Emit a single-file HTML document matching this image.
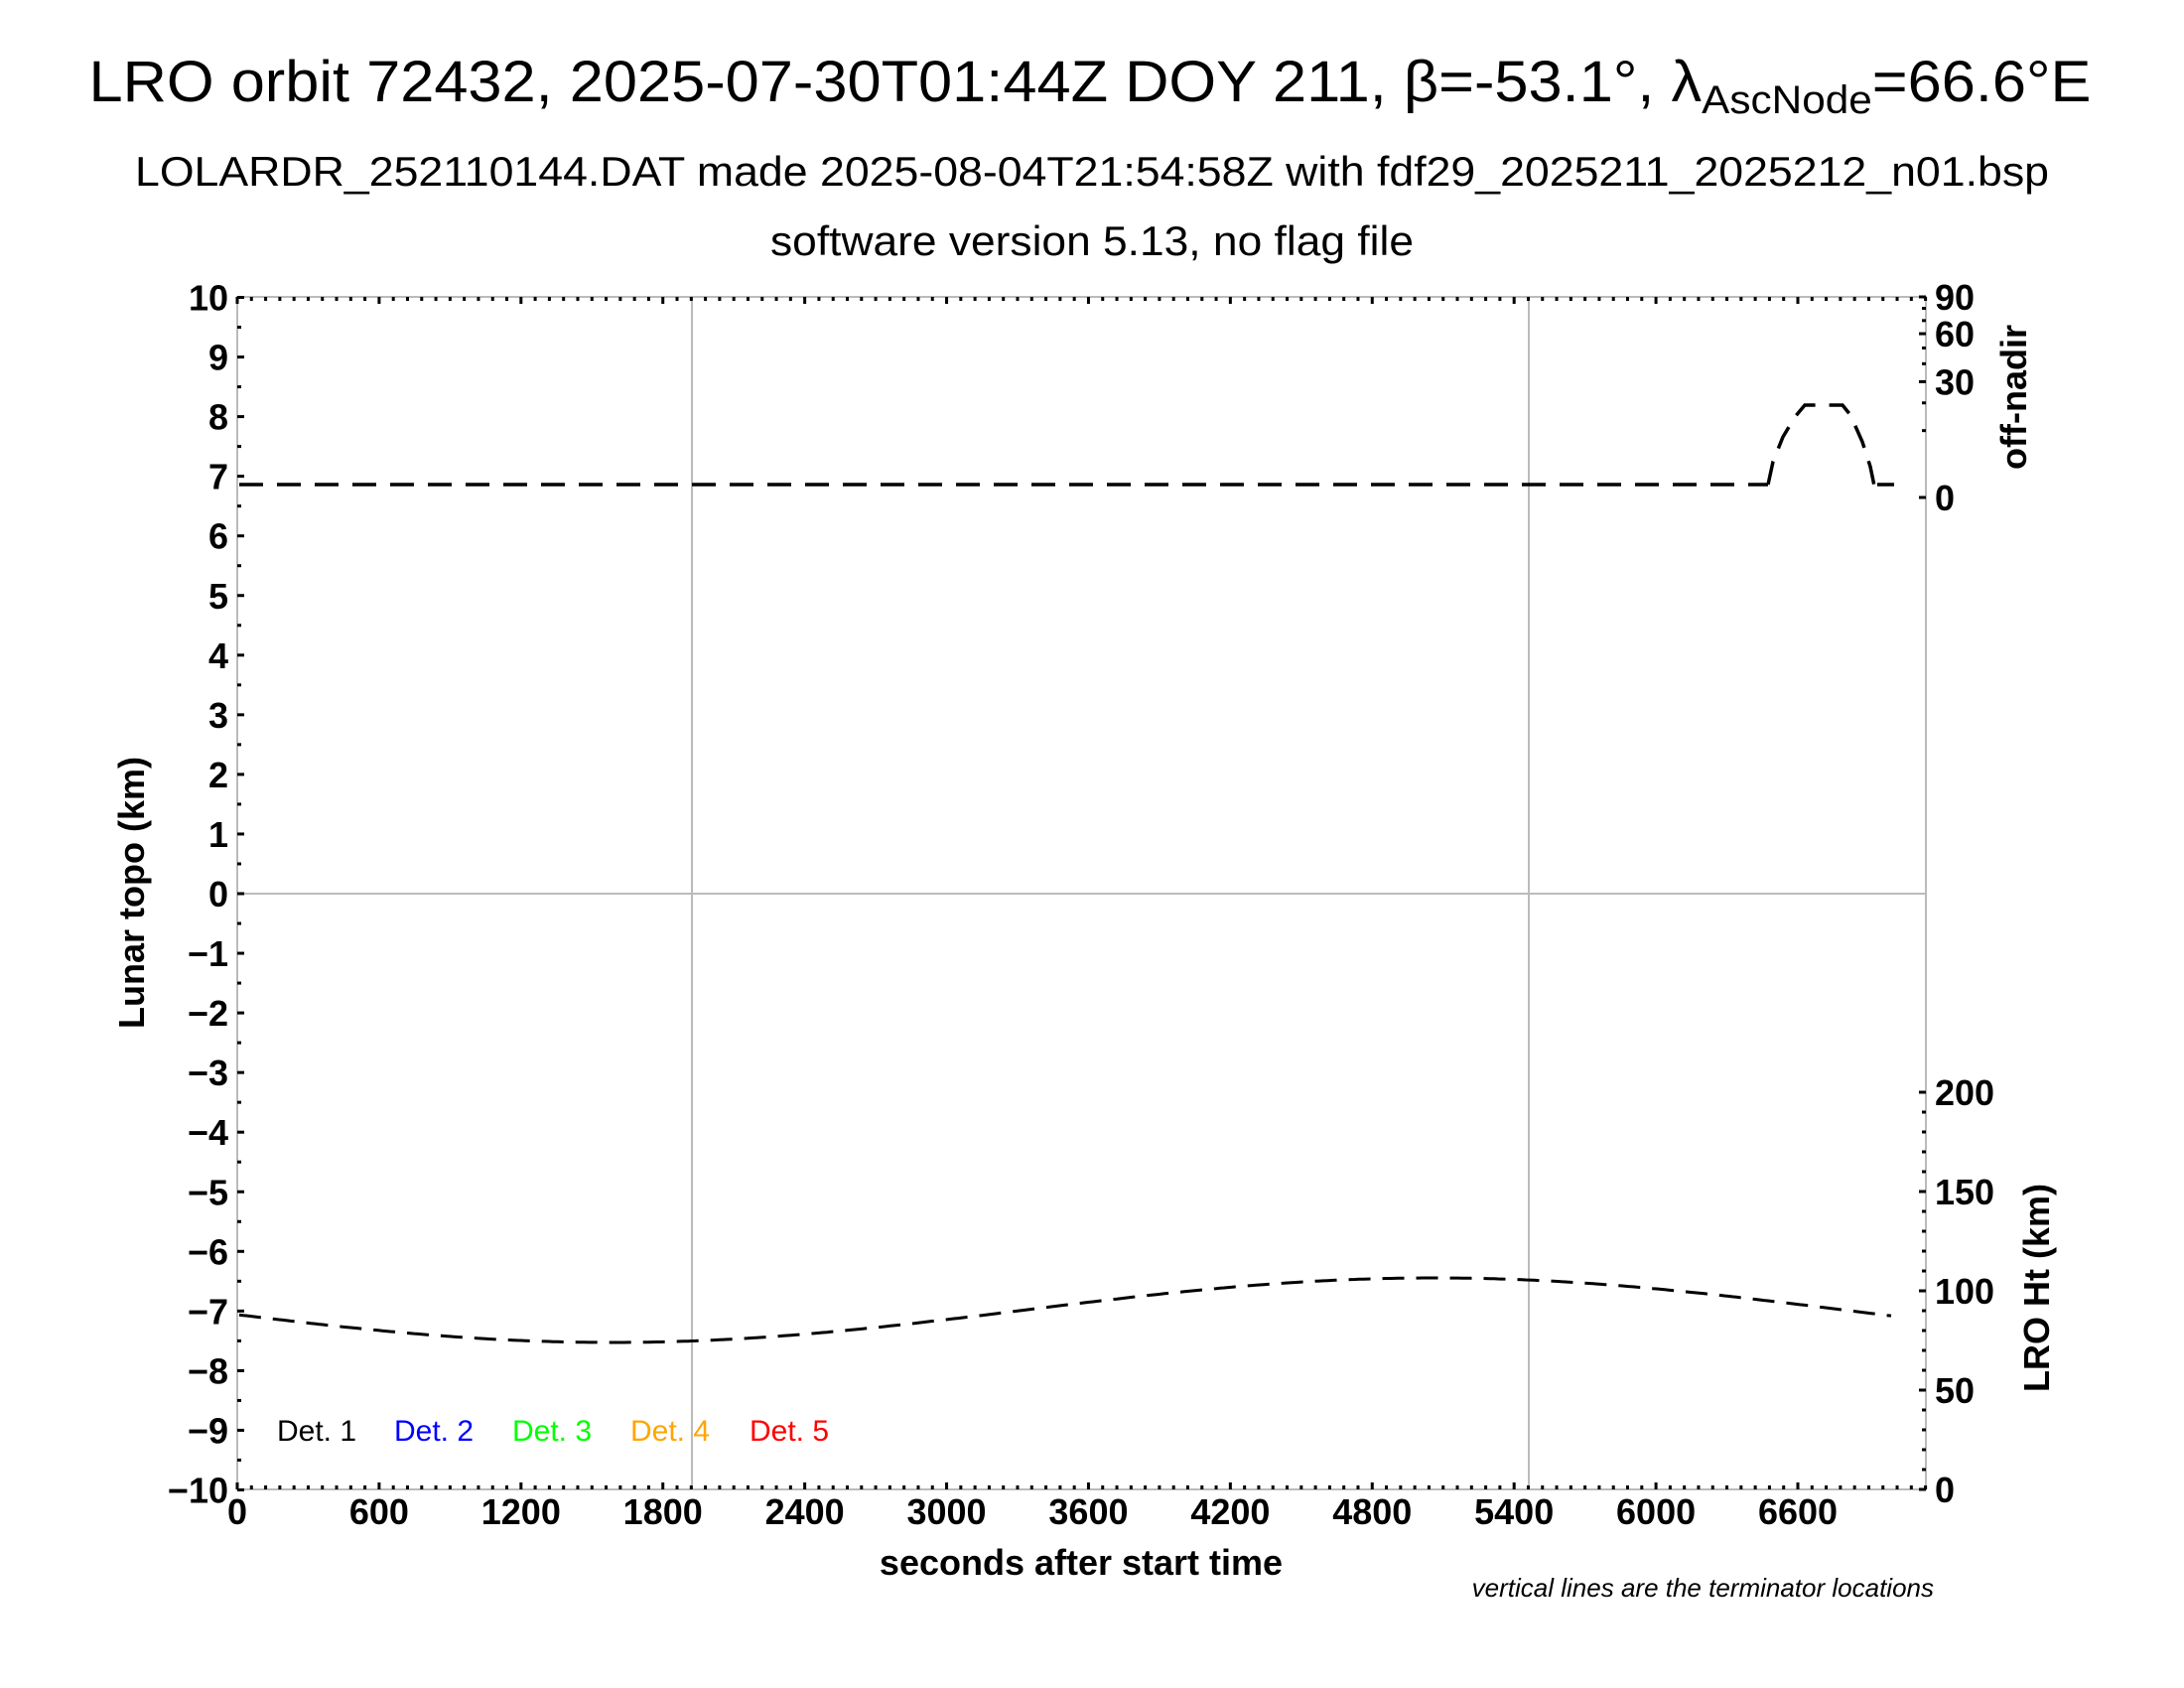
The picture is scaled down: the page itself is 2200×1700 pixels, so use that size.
<!DOCTYPE html>
<html><head><meta charset="utf-8"><style>html,body{margin:0;padding:0;background:#fff}svg{display:block}</style></head>
<body>
<svg xmlns="http://www.w3.org/2000/svg" width="2200" height="1700" viewBox="0 0 2200 1700" font-family="Liberation Sans, sans-serif">
<rect width="2200" height="1700" fill="#fff"/>
<text x="1098" y="102" font-size="58" text-anchor="middle" textLength="2017" lengthAdjust="spacingAndGlyphs">LRO orbit 72432, 2025-07-30T01:44Z DOY 211, β=-53.1°, λ<tspan font-size="40" dy="12">AscNode</tspan><tspan dy="-12">=66.6°E</tspan></text>
<text x="1100" y="187" font-size="42" text-anchor="middle" textLength="1928" lengthAdjust="spacingAndGlyphs">LOLARDR_252110144.DAT made 2025-08-04T21:54:58Z with fdf29_2025211_2025212_n01.bsp</text>
<text x="1100" y="257" font-size="42" text-anchor="middle" textLength="648" lengthAdjust="spacingAndGlyphs">software version 5.13, no flag file</text>
<g stroke="#bbb" stroke-width="2" fill="none">
<rect x="239" y="299" width="1701" height="1201"/>
<line x1="697" y1="299" x2="697" y2="1500"/>
<line x1="1540" y1="299" x2="1540" y2="1500"/>
<line x1="239" y1="900" x2="1940" y2="900"/>
</g>
<g id="ticks" stroke="#000" stroke-width="3"></g>
<g id="labels" font-weight="bold" font-size="36"></g>
<path id="nadir" fill="none" stroke="#000" stroke-width="3.5" stroke-dasharray="24,14"/>
<path id="ht" fill="none" stroke="#000" stroke-width="3" stroke-dasharray="22,12"/>
<g font-size="30">
<text x="279" y="1451" fill="#000">Det. 1</text>
<text x="397" y="1451" fill="#0000ff">Det. 2</text>
<text x="516" y="1451" fill="#00ff00">Det. 3</text>
<text x="635" y="1451" fill="#ffa500">Det. 4</text>
<text x="755" y="1451" fill="#ff0000">Det. 5</text>
</g>
<text x="1089" y="1586" font-size="36" font-weight="bold" text-anchor="middle">seconds after start time</text>
<text transform="translate(145,899) rotate(-90)" font-size="36" font-weight="bold" text-anchor="middle">Lunar topo (km)</text>
<text transform="translate(2041,400) rotate(-90)" font-size="36" font-weight="bold" text-anchor="middle">off-nadir</text>
<text transform="translate(2064,1297) rotate(-90)" font-size="36" font-weight="bold" text-anchor="middle">LRO Ht (km)</text>
<text x="1948" y="1608" font-size="26" font-style="italic" text-anchor="end">vertical lines are the terminator locations</text>
</svg>
<script>
(function(){
var NS="http://www.w3.org/2000/svg";
function el(p,t,a,txt){var e=document.createElementNS(NS,t);for(var k in a)e.setAttribute(k,a[k]);if(txt!=null)e.textContent=txt;p.appendChild(e);return e;}
var T=document.getElementById("ticks"),L=document.getElementById("labels");
var x0=239,x1=1940,y0=299,y1=1500,sx=(1811-239)/6600;
for(var s=0;s<=7140;s+=60){var x=x0+s*sx;var len=(s%600==0)?7:4;
 el(T,"line",{x1:x,y1:y1,x2:x,y2:y1-len});el(T,"line",{x1:x,y1:y0,x2:x,y2:y0+len});
 if(s%600==0) el(L,"text",{x:x,y:1535,"text-anchor":"middle"},String(s));}
for(var v=-10;v<=10;v+=0.5){var y=900-v*60.05;var len=(v%1==0)?7:4;
 el(T,"line",{x1:x0,y1:y,x2:x0+len,y2:y});
 if(v%1==0) el(L,"text",{x:230,y:y+13,"text-anchor":"end"},(v<0?"\u2212":"")+Math.abs(v));}
function ny(d){return 501-202*Math.sqrt(d/90);}
for(var d=0;d<=90;d+=10){var y=ny(d);el(T,"line",{x1:x1,y1:y,x2:x1-(d%30==0?7:4),y2:y});}
[[0,"0"],[30,"30"],[60,"60"],[90,"90"]].forEach(function(a){el(L,"text",{x:1949,y:ny(a[0])+13},a[1]);});
for(var h=0;h<=200;h+=10){var y=1500-h*2;el(T,"line",{x1:x1,y1:y,x2:x1-(h%50==0?7:4),y2:y});
 if(h%50==0) el(L,"text",{x:1949,y:y+13},String(h));}
var p="M241,488 L1781,488 ";
var pts=[[1781,488],[1786,465],[1796,440],[1808,420],[1818,408],[1856,408],[1864,418],[1876,445],[1884,470],[1889,494]];
pts.forEach(function(q,i){p+=(i==0?"M":"L")+q[0]+","+q[1]+" ";});
p+="M1891,488 L1908,488";
document.getElementById("nadir").setAttribute("d",p);
var d2="";for(var x=241;x<=1907;x+=4){var y=1319.5-32.5*Math.cos(2*Math.PI*(x-1445)/1656);d2+=(x==241?"M":"L")+x+","+y.toFixed(1)+" ";}
document.getElementById("ht").setAttribute("d",d2);
})();
</script>
</body></html>
